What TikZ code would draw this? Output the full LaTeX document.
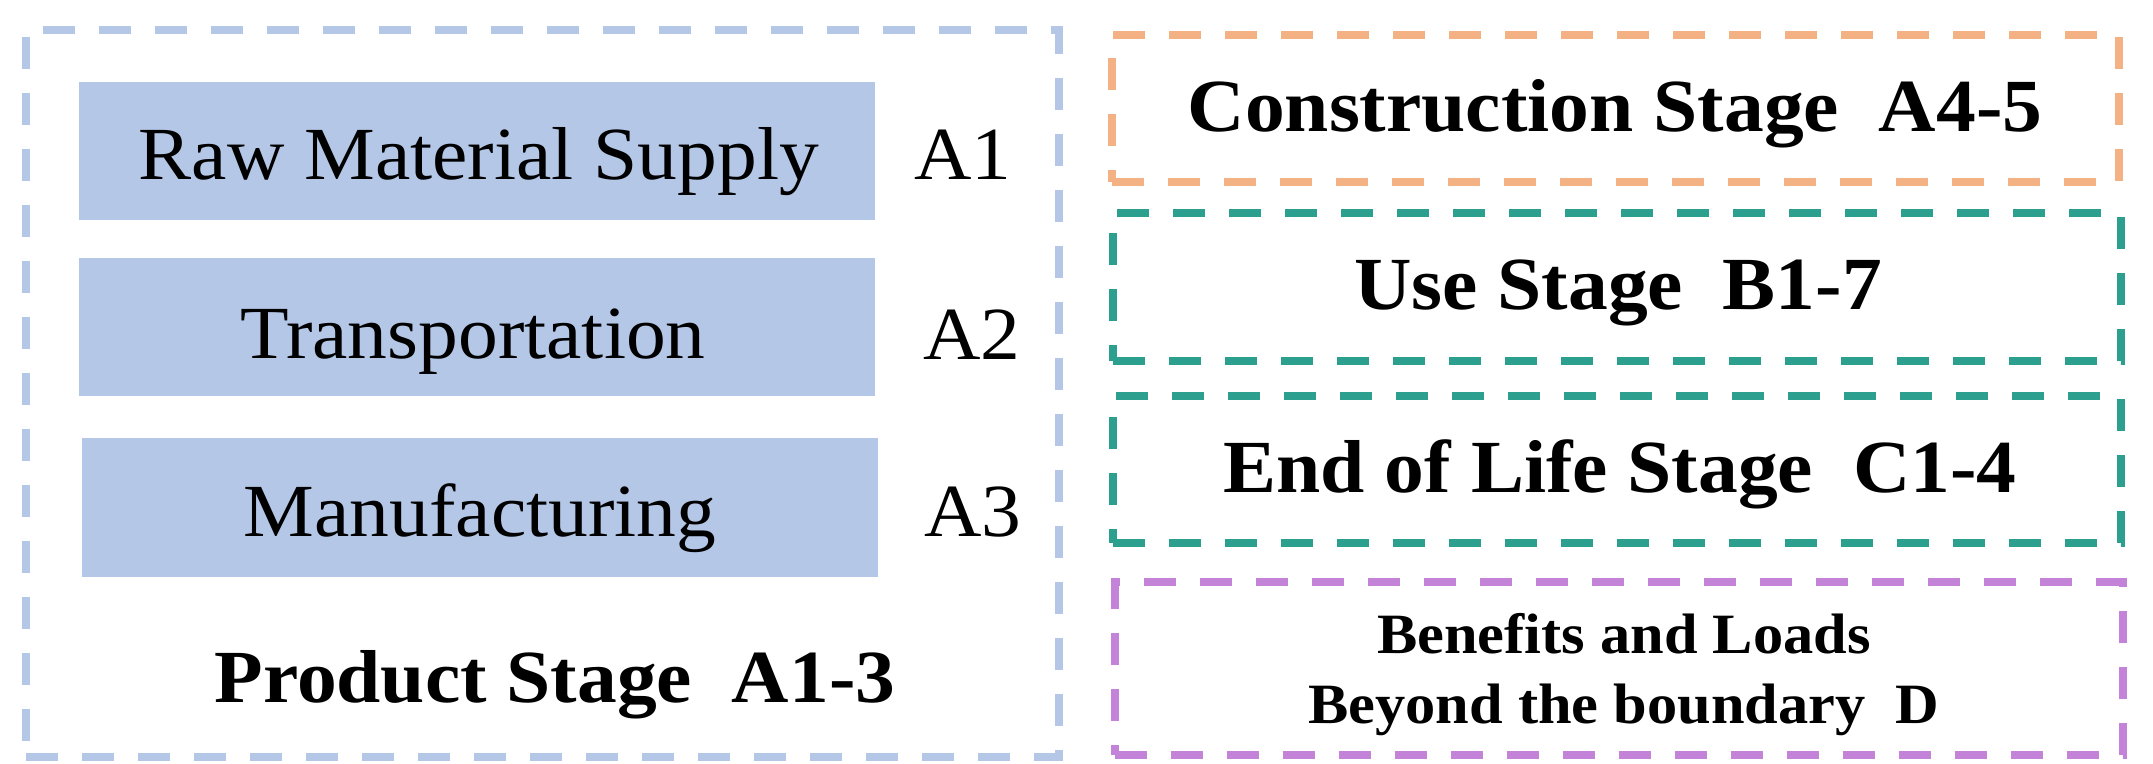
\documentclass[tikz,border=0pt]{standalone}
\usepackage{fontspec}
\setmainfont{Liberation Serif}[FakeStretch=1.06]
\definecolor{lblue}{HTML}{B4C7E7}
\definecolor{lorange}{HTML}{F4B183}
\definecolor{lteal}{HTML}{2C9F8F}
\definecolor{lpurple}{HTML}{C383D8}
\tikzset{
  stagebox/.style={draw=#1, line width=3.8pt, dash pattern=on 16pt off 12pt, inner sep=0pt},
  procbox/.style={fill=lblue, inner sep=0pt},
  bigtxt/.style={font=\fontsize{37.5}{44}\selectfont, anchor=base, inner sep=0pt},
  boldtxt/.style={font=\fontsize{37.5}{44}\selectfont\bfseries, anchor=base, inner sep=0pt},
  smalltxt/.style={font=\fontsize{28.5}{34}\selectfont\bfseries, anchor=base, inner sep=0pt}
}
\begin{document}
\begin{tikzpicture}[x=0.5pt,y=-0.5pt]
\useasboundingbox (0,0) rectangle (2153,764);
% boxes
\node[stagebox=lblue, minimum width=516.5pt, minimum height=363.5pt] (product) at (542.5,393.5) {};
\node[procbox, minimum width=398pt, minimum height=69pt] (raw) at (477,151) {};
\node[procbox, minimum width=398pt, minimum height=69pt] (trans) at (477,327) {};
\node[procbox, minimum width=398pt, minimum height=69.5pt] (manu) at (480,507.5) {};
\node[stagebox=lorange, minimum width=503.5pt, minimum height=73.5pt] (constr) at (1615.5,108.5) {};
\node[stagebox=lteal, minimum width=504pt, minimum height=74pt] (use) at (1617,287) {};
\node[stagebox=lteal, minimum width=504pt, minimum height=73.5pt] (eol) at (1617,469.5) {};
\node[stagebox=lpurple, minimum width=504pt, minimum height=86.5pt] (beyond) at (1619,668.5) {};
% texts
\node[bigtxt] (traw) at (479,180) {Raw Material Supply};
\node[bigtxt] (ttrans) at (473,359) {Transportation};
\node[bigtxt] (tmanu) at (480,537) {Manufacturing};
\node[bigtxt] (a1) at (963,180) {A1};
\node[bigtxt] (a2) at (972,360) {A2};
\node[bigtxt] (a3) at (973,537) {A3};
\node[boldtxt] (tprod) at (555,702) {Product Stage\ \ A1-3};
\node[boldtxt] (tconstr) at (1615,132) {Construction Stage\ \ A4-5};
\node[boldtxt] (tuse) at (1618,310) {Use Stage\ \ B1-7};
\node[boldtxt] (teol) at (1620,493) {End of Life Stage\ \ C1-4};
\node[smalltxt] (tben) at (1624,653) {Benefits and Loads};
\node[smalltxt] (tbey) at (1624,723) {Beyond the boundary\ \ D};
\end{tikzpicture}
\end{document}
